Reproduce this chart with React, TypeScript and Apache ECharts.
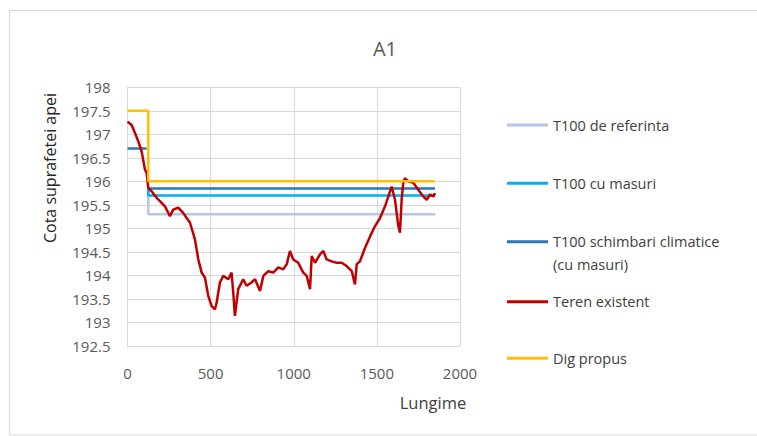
import React, { useEffect, useRef } from "react";
import * as echarts from "echarts";

const chartTitle = "A1";
const xAxisName = "Lungime";
const yAxisName = "Cota suprafetei apei";

const seriesNames = [
  "T100 de referinta",
  "T100 cu masuri",
  "T100 schimbari climatice (cu masuri)",
  "Teren existent",
  "Dig propus",
];
const seriesColors = ["#B4C7E7", "#00B0F0", "#2E75B6", "#C00000", "#FFC000"];

// T100 de referinta
const refX = [125, 125, 1850];
const refY = [195.85, 195.3, 195.3];
// T100 cu masuri
const masX = [125, 125, 1850];
const masY = [195.85, 195.7, 195.7];
// T100 schimbari climatice (cu masuri)
const climX = [0, 115, null, 125, 1850];
const climY = [196.7, 196.7, null, 195.85, 195.85];
// Dig propus
const digX = [0, 125, 125, 1850];
const digY = [197.5, 197.5, 196.0, 196.0];
// Teren existent
const terX = [
  0, 25, 45, 65, 85, 105, 115, 125, 145, 175, 195, 225, 255, 275, 305, 335, 356,
  376, 406, 426, 446, 466, 486, 506, 526, 536, 556, 576, 606, 626, 636, 646, 666,
  696, 716, 746, 767, 797, 817, 847, 877, 907, 937, 958, 977, 997, 1027, 1057,
  1078, 1098, 1108, 1128, 1158, 1178, 1198, 1228, 1258, 1288, 1318, 1349, 1368,
  1379, 1398, 1429, 1459, 1489, 1519, 1549, 1569, 1589, 1609, 1629, 1639, 1649,
  1659, 1669, 1689, 1719, 1749, 1779, 1800, 1820, 1840, 1850,
];
const terY = [
  197.27, 197.2, 197.03, 196.85, 196.64, 196.25, 196.18, 195.86, 195.79, 195.65,
  195.58, 195.47, 195.26, 195.4, 195.44, 195.33, 195.22, 195.12, 194.76, 194.34,
  194.06, 193.95, 193.56, 193.35, 193.28, 193.42, 193.85, 193.99, 193.92, 194.06,
  193.64, 193.14, 193.71, 193.92, 193.78, 193.85, 193.92, 193.67, 193.99, 194.09,
  194.06, 194.17, 194.13, 194.24, 194.52, 194.34, 194.27, 194.06, 193.99, 193.71,
  194.41, 194.27, 194.45, 194.52, 194.34, 194.3, 194.27, 194.27, 194.2, 194.09,
  193.81, 194.24, 194.3, 194.59, 194.83, 195.05, 195.22, 195.47, 195.68, 195.89,
  195.61, 195.05, 194.91, 195.61, 195.97, 196.07, 196.0, 195.97, 195.82, 195.68,
  195.61, 195.72, 195.68, 195.75,
];

const xTicks = { min: 0, max: 2000, interval: 500 };
const yTicks = { min: 192.5, max: 198, interval: 0.5 };

const legendCenters = [125, 183.3, 241.7, 301.7, 358.3];

function pairs(xs: (number | null)[], ys: (number | null)[]) {
  return xs.map((x, i) => (x === null ? [null, null] : [x, ys[i]]));
}

const FONT = "'Open Sans', sans-serif";

export default function App() {
  const ref = useRef<HTMLDivElement>(null);
  useEffect(() => {
    if (!ref.current) return;
    const chart = echarts.init(ref.current, null, { renderer: "svg" });
    const datas = [
      pairs(refX, refY),
      pairs(masX, masY),
      pairs(climX, climY),
      pairs(terX, terY),
      pairs(digX, digY),
    ];
    const series = seriesNames.map((name, i) => ({
      name,
      type: "line",
      data: datas[i],
      showSymbol: false,
      symbol: "none",
      connectNulls: false,
      lineStyle: { color: seriesColors[i], width: 2.5 },
      itemStyle: { color: seriesColors[i] },
    }));
    const legends = seriesNames.map((name, i) => {
      const multi = i === 2;
      return {
        orient: "vertical",
        left: 507,
        top: multi ? legendCenters[i] - 34.5 : legendCenters[i] - 10,
        padding: 0,
        itemWidth: 41,
        itemHeight: 3,
        icon: "rect",
        data: [name],
        selectedMode: false,
        formatter: multi ? () => "\nT100 schimbari climatice\n(cu masuri)" : undefined,
        textStyle: {
          fontFamily: FONT,
          fontSize: 14.5,
          color: "#404040",
          lineHeight: multi ? 23 : 20,
        },
      };
    });
    chart.setOption({
      animation: false,
      backgroundColor: "#ffffff",
      title: {
        text: chartTitle,
        left: 380,
        top: 33,
        textAlign: "center",
        textStyle: { fontFamily: FONT, fontSize: 20, fontWeight: "normal", color: "#595959" },
      },
      grid: { left: 127.5, right: 297, top: 87.3, bottom: 90, containLabel: false },
      legend: legends,
      xAxis: {
        type: "value",
        min: xTicks.min,
        max: xTicks.max,
        interval: xTicks.interval,
        axisLine: { show: true, lineStyle: { color: "#D9D9D9" } },
        axisTick: { show: false },
        splitLine: { show: true, lineStyle: { color: "#D9D9D9", width: 1 } },
        axisLabel: {
          margin: 19,
          fontFamily: FONT,
          fontSize: 15,
          color: "#595959",
          formatter: (v: number) => String(v),
        },
      },
      yAxis: {
        type: "value",
        min: yTicks.min,
        max: yTicks.max,
        interval: yTicks.interval,
        axisLine: { show: true, lineStyle: { color: "#D9D9D9" } },
        axisTick: { show: false },
        splitLine: { show: true, lineStyle: { color: "#D9D9D9", width: 1 } },
        axisLabel: {
          margin: 17,
          fontFamily: FONT,
          fontSize: 15,
          color: "#595959",
          formatter: (v: number) => String(v),
        },
      },
      graphic: [
        {
          type: "rect",
          shape: { x: 9.5, y: 10.5, width: 800, height: 424.5 },
          style: { fill: "none", stroke: "#D9D9D9", lineWidth: 1 },
          silent: true,
          z: -10,
        },
        {
          type: "text",
          x: 433,
          y: 402,
          style: {
            text: xAxisName,
            fontFamily: FONT,
            fontSize: 16.5,
            fill: "#404040",
            align: "center",
            verticalAlign: "middle",
          },
        },
        {
          type: "text",
          x: 50,
          y: 168,
          rotation: Math.PI / 2,
          style: {
            text: yAxisName,
            fontFamily: FONT,
            fontSize: 16,
            fill: "#262626",
            align: "center",
            verticalAlign: "middle",
          },
        },
      ],
      series,
    });
    return () => chart.dispose();
  }, []);
  return (
    <div
      ref={ref}
      style={{ position: "absolute", left: 0, top: 0, width: 757, height: 436 }}
    />
  );
}
